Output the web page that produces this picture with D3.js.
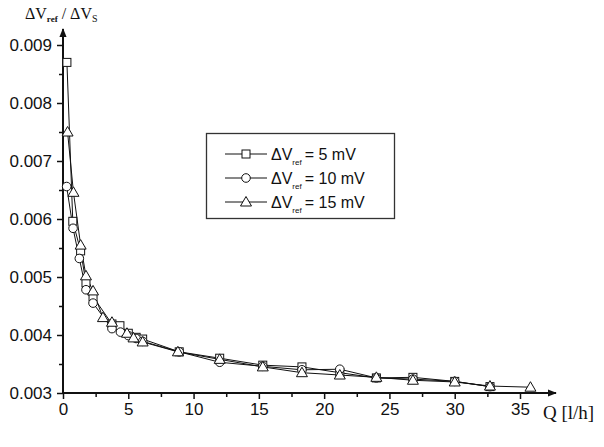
<!DOCTYPE html>
<html><head><meta charset="utf-8">
<script src="https://cdn.jsdelivr.net/npm/d3@7"></script>
<style>body{margin:0;background:#fff}svg{display:block}</style>
</head><body>
<script>
// Data
const qSquare = [0.3, 0.75, 1.35, 1.76, 2.3, 3.75, 4.36, 5.0, 5.6, 6.1, 8.9, 12.0, 15.3, 18.3, 21.2, 24.0, 26.8, 30.0, 32.7];
const vSquare = [0.0087, 0.00596, 0.00545, 0.0049, 0.00466, 0.00419, 0.00416, 0.00403, 0.00396, 0.00393, 0.00371, 0.00360, 0.00348, 0.00345, 0.00335, 0.00326, 0.00327, 0.00320, 0.00311];
const qCircle = [0.28, 0.77, 1.25, 1.76, 2.3, 3.75, 4.4, 5.0, 5.6, 6.1, 8.9, 12.0, 15.3, 18.3, 21.2, 24.0, 26.8, 30.0, 32.7];
const vCircle = [0.00656, 0.00584, 0.00532, 0.00478, 0.00455, 0.00411, 0.00405, 0.00399, 0.00394, 0.00389, 0.00371, 0.00353, 0.00346, 0.00340, 0.00341, 0.00326, 0.00324, 0.00320, 0.00311];
const qTriangle = [0.35, 0.8, 1.35, 1.76, 2.3, 3.06, 3.75, 4.9, 5.4, 6.1, 8.8, 12.0, 15.3, 18.3, 21.2, 24.0, 26.8, 30.0, 32.7, 35.8];
const vTriangle = [0.0075, 0.00646, 0.00555, 0.00502, 0.00476, 0.0043, 0.00422, 0.00403, 0.00395, 0.00388, 0.00371, 0.00358, 0.00345, 0.00335, 0.00331, 0.00327, 0.00322, 0.00319, 0.00312, 0.00310];
const seriesLabels = ["= 5 mV", "= 10 mV", "= 15 mV"];
const xTicks = [0, 5, 10, 15, 20, 25, 30, 35];
const xMinor = [2.5, 7.5, 12.5, 17.5, 22.5, 27.5, 32.5];
const yTicks = [0.003, 0.004, 0.005, 0.006, 0.007, 0.008, 0.009];
const yMinor = [0.0035, 0.0045, 0.0055, 0.0065, 0.0075, 0.0085];

const W = 604, H = 447;
const svg = d3.select("body").append("svg").attr("width", W).attr("height", H);
const x = d3.scaleLinear().domain([0, 35]).range([63, 520]);
const y = d3.scaleLinear().domain([0.003, 0.009]).range([393, 45]);
const ink = "#111";

// axes lines with arrows
svg.append("defs").append("marker").attr("id", "arr").attr("viewBox", "0 0 10 10")
  .attr("refX", 9).attr("refY", 5).attr("markerWidth", 9).attr("markerHeight", 9)
  .attr("markerUnits", "userSpaceOnUse").attr("orient", "auto")
  .append("path").attr("d", "M0,1 L10,5 L0,9 Z").attr("fill", ink);
svg.append("line").attr("x1", x(0)).attr("y1", y(0.003)).attr("x2", 556).attr("y2", y(0.003))
  .attr("stroke", ink).attr("stroke-width", 2).attr("marker-end", "url(#arr)");
svg.append("line").attr("x1", x(0)).attr("y1", y(0.003)).attr("x2", x(0)).attr("y2", 29)
  .attr("stroke", ink).attr("stroke-width", 2).attr("marker-end", "url(#arr)");

const font = "'Liberation Sans', Arial, sans-serif";
const ax = svg.append("g").attr("transform", `translate(0,${y(0.003)})`)
  .call(d3.axisBottom(x).tickValues(xTicks).tickFormat(d3.format("d")).tickSize(6).tickPadding(4));
ax.select(".domain").remove();
ax.selectAll("line").attr("stroke", ink).attr("stroke-width", 1.5);
ax.selectAll("text").attr("font-family", font).attr("font-size", 17).attr("fill", ink);
const axm = svg.append("g").attr("transform", `translate(0,${y(0.003)})`)
  .call(d3.axisBottom(x).tickValues(xMinor).tickFormat("").tickSize(4));
axm.select(".domain").remove();
axm.selectAll("line").attr("stroke", ink).attr("stroke-width", 1.5);

const ay = svg.append("g").attr("transform", `translate(${x(0)},0)`)
  .call(d3.axisLeft(y).tickValues(yTicks).tickFormat(d3.format(".3f")).tickSize(6).tickPadding(5));
ay.select(".domain").remove();
ay.selectAll("line").attr("stroke", ink).attr("stroke-width", 1.5);
ay.selectAll("text").attr("font-family", font).attr("font-size", 17).attr("fill", ink);
const aym = svg.append("g").attr("transform", `translate(${x(0)},0)`)
  .call(d3.axisLeft(y).tickValues(yMinor).tickFormat("").tickSize(4));
aym.select(".domain").remove();
aym.selectAll("line").attr("stroke", ink).attr("stroke-width", 1.5);

// axis titles
const serif = "'Liberation Serif', 'Times New Roman', serif";
const yt = svg.append("text").attr("x", 25).attr("y", 19).attr("font-family", serif)
  .attr("font-size", 16).attr("fill", ink);
yt.append("tspan").text("ΔV");
yt.append("tspan").attr("dy", 3).attr("font-size", 9).attr("font-weight", "bold").text("ref");
yt.append("tspan").attr("dy", -3).text(" / ΔV");
yt.append("tspan").attr("dy", 3).attr("font-size", 10).text("S");
svg.append("text").attr("x", 543).attr("y", 419).attr("font-family", serif)
  .attr("font-size", 19).attr("fill", ink).text("Q [l/h]");

// marker drawers
function drawMarker(g, type, cx, cy) {
  const attrs = s => s.attr("fill", "#fff").attr("stroke", ink).attr("stroke-width", 1);
  if (type === "square") attrs(g.append("rect").attr("x", cx - 4).attr("y", cy - 4).attr("width", 8).attr("height", 8));
  else if (type === "circle") attrs(g.append("circle").attr("cx", cx).attr("cy", cy).attr("r", 4.3));
  else attrs(g.append("path").attr("d", `M${cx},${cy - 5.5} L${cx + 5.5},${cy + 4} L${cx - 5.5},${cy + 4} Z`));
}

const series = [
  {type: "square", q: qSquare, v: vSquare},
  {type: "circle", q: qCircle, v: vCircle},
  {type: "triangle", q: qTriangle, v: vTriangle}
];
const line = d3.line().x(d => x(d[0])).y(d => y(d[1]));
series.forEach(s => {
  const pts = s.q.map((q, i) => [q, s.v[i]]);
  svg.append("path").attr("d", line(pts)).attr("fill", "none").attr("stroke", ink).attr("stroke-width", 1);
});
series.forEach(s => {
  const g = svg.append("g");
  s.q.forEach((q, i) => drawMarker(g, s.type, x(q), y(s.v[i])));
});

// legend
const lg = svg.append("g");
lg.append("rect").attr("x", 206.5).attr("y", 133.5).attr("width", 188).attr("height", 85)
  .attr("fill", "#fff").attr("stroke", "#333").attr("stroke-width", 1.3);
series.forEach((s, i) => {
  const ly = 154 + i * 24;
  lg.append("line").attr("x1", 225).attr("x2", 267).attr("y1", ly).attr("y2", ly).attr("stroke", ink).attr("stroke-width", 1);
  drawMarker(lg, s.type, 246, ly);
  const t = lg.append("text").attr("x", 271).attr("y", ly + 6).attr("font-family", font)
    .attr("font-size", 16).attr("fill", ink);
  t.append("tspan").text("ΔV");
  t.append("tspan").attr("dy", 5).attr("font-size", 8).text("ref");
  t.append("tspan").attr("dy", -5).attr("dx", 3).text(seriesLabels[i]);
});
</script>
</body></html>
